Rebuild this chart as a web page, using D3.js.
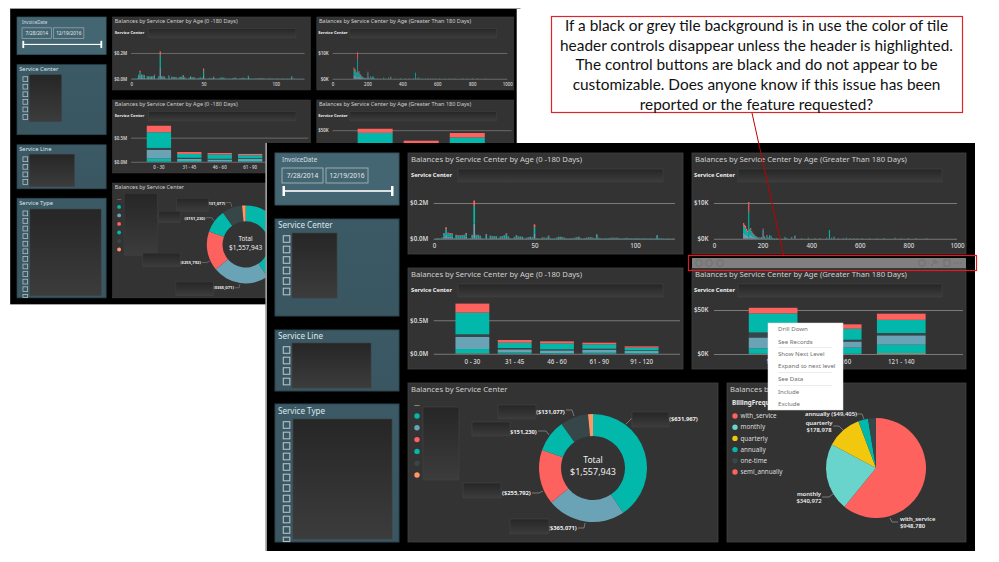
<!DOCTYPE html>
<html><head><meta charset="utf-8">
<script src="https://cdn.jsdelivr.net/npm/d3@7/dist/d3.min.js"></script>
<style>html,body{margin:0;padding:0;background:#fff}svg{display:block}text{font-family:"Noto Sans","Open Sans",sans-serif}</style>
</head><body><div id="chart"></div>
<script>
// ---------- data ----------
const calloutLines=["If a black or grey tile background is in use the color of tile","header controls disappear unless the header is highlighted.","The control buttons are black and do not appear to be","customizable. Does anyone know if this issue has been","reported or the feature requested?"];
const menuItems=["Drill Down","See Records","Show Next Level","Expand to next level","See Data","Include","Exclude"];
const titleYoung="Balances by Service Center by Age (0 -180 Days)";
const titleOld="Balances by Service Center by Age (Greater Than 180 Days)";
const invoiceDates=["7/28/2014","12/19/2016"];

// balances by individual age, 0-119 days, $K
const age1Blue=[0,1,1,1,2,12,22,12,12,11,1,8,7,7,7,8,12,1,1,8,84,8,8,6,1,1,9,1,6,5,5,5,1,5,5,6,9,5,1,1,3,7,5,5,4,1,2,3,4,3,28,1,1,1,3,2,2,6,1,1,1,2,4,4,3,2,1,1,1,1,2,3,4,1,1,1,2,3,3,2,1,8,2,1,1,1,1,1,2,2,2,2,1,1,1,1,2,1,1,1,1,1,1,1,1,1,1,1,1,1,1,7,1,1,1,0,1,1,0,1];
const age1Teal=[0,1,3,1,4,16,30,17,15,14,3,11,10,10,10,11,15,1,3,11,98,11,11,8,3,1,13,1,8,8,8,8,3,6,8,10,15,6,3,1,5,10,6,6,6,1,3,5,6,4,35,3,1,1,4,3,3,8,2,1,2,3,6,6,5,3,2,1,2,2,3,4,6,2,1,2,4,4,5,3,2,13,2,2,1,2,2,2,2,3,2,3,2,1,2,2,2,2,2,1,2,2,2,1,2,2,1,1,2,1,1,11,2,1,1,1,1,1,1,1];
const age1Red=[0,0,0,0,0,4,12,5,5,5,0,3,3,3,3,3,5,0,0,3,32,3,3,3,0,0,4,0,3,2,2,2,0,2,2,3,6,2,0,0,1,3,2,2,1,0,1,1,1,1,17,0,0,0,1,1,1,3,1,0,0,1,1,1,1,1,0,0,1,0,1,1,1,1,0,1,1,1,1,1,0,3,1,0,0,0,0,1,1,1,1,1,1,0,0,1,1,0,0,0,0,1,0,0,0,0,0,0,0,0,0,2,0,0,0,0,0,0,0,0];

// balances by individual age above 120 days, $K
const age2Days=[122,126,130,134,138,143,147,151,155,159,163,167,171,175,180,184,188,192,196,202,207,213,218,223,229,235,240,248,258,272,292,299,320,333,360,388,415,436,463,475,484,494,512,532,545,560,575,590,610,640,670,700,745,770,800,830,875];
const age2Blue=[1.6,1.4,1.2,1.0,0.8,0.5,1.0,1.2,0.8,0.6,0.5,0.4,0.3,0.2,0.2,0.1,0.1,0.1,0.2,2.2,0.2,0.1,0.2,0.1,0.3,0.3,0.1,0.1,0.1,0.1,0.2,0.1,0.3,0.8,0.1,0.1,0.1,0.1,0.1,0.4,0.1,0.2,0.1,0.1,0.1,0.1,0.1,0.1,0.1,0.1,0.1,0.1,0.1,0.1,0.1,0.1,0.1];
const age2Teal=[2.0,1.8,1.7,1.2,1.0,7.0,1.2,1.4,1.0,0.8,0.6,0.5,0.3,0.3,0.2,0.2,0.1,0.1,0.2,0.4,0.3,0.1,0.5,0.2,0.7,0.5,0.1,0.1,0.1,0.1,0.3,0.1,0.2,0.1,0.1,0.2,0.1,0.1,0.2,2.0,0.2,0.4,0.1,0.1,0.2,0.1,0.1,0.1,0.1,0.1,0.1,0.1,0.2,0.1,0.1,0.1,0.1];
const age2Red=[0.8,0.7,0.7,0.6,0.5,2.8,0.4,0.4,0.3,0.3,0.2,0.2,0.15,0.1,0.07,0.07,0.08,0.08,0.07,0.2,0.15,0.08,0.3,0.1,0,0,0,0,0,0,0,0,0,0,0,0,0,0,0,0,0,0,0,0,0,0,0,0,0,0,0,0,0,0,0,0,0];

const bucketsYoung=["0 - 30","31 - 45","46 - 60","61 - 90","91 - 120"];
const youngOrange=[0.005,0,0,0,0];
const youngTealLow=[0.065,0.02,0.01,0.015,0.01];
const youngBlue=[0.18,0.045,0.04,0.045,0.03];
const youngDark=[0.04,0.02,0.015,0.015,0.01];
const youngTealHigh=[0.325,0.08,0.09,0.065,0.04];
const youngRed=[0.135,0.04,0.03,0.025,0.02];

const bucketsOld=["160+","141 - 160","121 - 140"];
const oldOrange=[0.3,0.2,0.8];
const oldTealLow=[6,7,9.8];
const oldBlue=[12.5,7,10.6];
const oldDark=[5.7,2,2.6];
const oldTealHigh=[21.6,12.5,15];
const oldRed=[6.4,5,7];

const centerValues=[631967,365071,255792,151230,131077,22806];
const centerLabels=["($631,967)","($365,071)","($255,792)","($151,230)","($131,077)",""];
const totalLabel="$1,557,943";

const billingNames=["with_service","monthly","quarterly","annually","one-time","semi_annually"];
const billingValues=[948780,340972,178978,49405,39808,0];

// ---------- styles ----------
const TEAL="#01B8AA",BLUE="#6BA3B6",RED="#FD625E",DARK="#374649",ORANGE="#FE9666",MINT="#69D4CC",YELLOW="#F2C80F";
const centerColors=[TEAL,BLUE,RED,TEAL,DARK,ORANGE];
const billingColors=[RED,MINT,YELLOW,TEAL,DARK,RED];
const stackColors=[ORANGE,TEAL,BLUE,DARK,TEAL,RED];
const stackKeys=["orange","tealLow","blue","dark","tealHigh","red"];
const TILE="#333333",TEXT="#d9d9d9",GRID="#7a7a7a",TITLE_SIZE=7.7;

const svg=d3.select("#chart").append("svg").attr("width",999).attr("height",562);
const defs=svg.append("defs");
const mg=defs.append("linearGradient").attr("id","maskGrad").attr("x1",0).attr("y1",0).attr("x2",0).attr("y2",1);
mg.append("stop").attr("offset",0).attr("stop-color","#262626");
mg.append("stop").attr("offset",1).attr("stop-color","#3c3c3c");
const tg=defs.append("linearGradient").attr("id","slicerGrad").attr("x1",0).attr("y1",0).attr("x2",0).attr("y2",1);
tg.append("stop").attr("offset",0).attr("stop-color","#3b5a66");
tg.append("stop").attr("offset",1).attr("stop-color","#395661");

svg.append("rect").attr("width",999).attr("height",562).attr("fill","#fff");

function rect(g,x0,y0,x1,y1,fill,stroke){
  return g.append("rect").attr("x",x0).attr("y",y0).attr("width",x1-x0).attr("height",y1-y0).attr("fill",fill).attr("stroke",stroke||"none");
}
function mask(g,b){rect(g,b[0],b[1],b[2],b[3],"url(#maskGrad)","#414141").attr("stroke-width",.7);}
function label(g,x,y,s,size,fill,anchor,weight){
  return g.append("text").attr("x",x).attr("y",y).attr("dy",".35em").attr("font-size",size).attr("fill",fill||TEXT)
    .attr("text-anchor",anchor||"start").attr("font-weight",weight||400).text(s);
}
function leader(g,pts){
  g.append("path").attr("d",d3.line()(pts)).attr("fill","none").attr("stroke","#8a8a8a").attr("stroke-width",.8);
}

function chartFrame(g,x0,y0,x1,y1,title,labelX,mx0,mx1){
  rect(g,x0,y0,x1,y1,TILE,"#414141").attr("stroke-width",.8);
  label(g,x0+3,y0+6,title,TITLE_SIZE,"#cfcfcf");
  label(g,labelX,y0+22,"Service Center",5.7,"#f0f0f0","start",700);
  mask(g,[mx0,y0+16,mx1,y0+29]);
}
function yAxis(g,y,x0,x1,vals,fmt){
  const a=g.append("g").attr("transform",`translate(${x0},0)`)
    .call(d3.axisLeft(y).tickValues(vals).tickSize(-(x1-x0)).tickPadding(5.5).tickFormat(fmt));
  a.select(".domain").remove();
  a.selectAll("line").attr("stroke",GRID).attr("stroke-width",1.1);
  a.selectAll("text").attr("fill",TEXT).attr("font-size",6.2).attr("font-weight",600);
}
function xAxis(g,scale,yPos,vals,fmt){
  const ax=d3.axisBottom(scale).tickSize(0).tickPadding(0);
  if(vals)ax.tickValues(vals);
  if(fmt)ax.tickFormat(fmt);
  const a=g.append("g").attr("transform",`translate(0,${yPos})`).call(ax);
  a.select(".domain").remove();
  a.selectAll("text").attr("fill",TEXT).attr("font-size",6.2).attr("font-weight",500);
  return a;
}
function stacked(g,x,y,rows){
  const series=d3.stack().keys(stackKeys)(rows);
  series.forEach((s,i)=>{
    g.append("g").attr("fill",stackColors[i]).selectAll("rect").data(s).join("rect")
      .attr("x",d=>x(d.data.cat)).attr("width",x.bandwidth())
      .attr("y",d=>y(d[1])).attr("height",d=>Math.max(0,y(d[0])-y(d[1])));
  });
}

function dashboard(root,cfg){
  const g=root;
  rect(g,cfg.black[0],cfg.black[1],cfg.black[2],cfg.black[3],"#000");

  // ---- slicers ----
  rect(g,275,153,399,205,"#446673","#375059");
  label(g,282,160,"InvoiceDate",6.3,"#d5dde0");
  invoiceDates.forEach((d,i)=>{
    const bx=i?326:282;
    rect(g,bx,168,bx+(i?42:41),183,"none","#a3b3b9").attr("stroke-width",.9);
    label(g,bx+(i?21:20.5),175.5,d,6.6,"#e8e8e8","middle");
  });
  rect(g,283,190.2,393,191.8,"#fff");
  rect(g,282.5,186,285,196,"#fff");
  rect(g,391,186,393.5,196,"#fff");

  function slicer(y0,y1,title,titleY,mb,count,firstY){
    rect(g,275,y0,399,y1,"url(#slicerGrad)","#2e444d");
    label(g,278,titleY,title,8.1,"#dfe5e7");
    d3.range(count).forEach(i=>{
      const cy=firstY+i*10.5;
      const bot=Math.min(cy+3.3,y1-.5);
      if(cy-3.3<y1)rect(g,283.3,cy-3.3,289.8,bot,"none","#b5bfc3").attr("stroke-width",1.1);
    });
    mask(g,mb);
  }
  slicer(219,316,"Service Center",225,[292,233,337,298],6,239);
  slicer(330,391,"Service Line",336,[292,343,cfg.lineMaskRight,388],4,350);
  slicer(404,542,"Service Type",411,[293,419,392,539],12,425);

  // ---- age by day, 0-180 ----
  chartFrame(g,408,153,683,254,titleYoung,411,458,663);
  const x1=d3.scaleLinear().domain([0,100]).range([434,635]);
  const y1=d3.scaleLinear().domain([0,200]).range([238.7,203]);
  yAxis(g,y1,433.7,675,[0,200],d=>"$"+(d/1000).toFixed(1)+"M");
  xAxis(g,x1,244,[0,50,100]);
  age1Blue.forEach((b,i)=>{
    const vals=[b,age1Teal[i],age1Red[i]],cols=[BLUE,TEAL,RED];
    let acc=0;
    vals.forEach((v,k)=>{
      if(!v)return;
      rect(g,x1(i)-.85,y1(acc+v),x1(i)+.85,y1(acc),cols[k]);acc+=v;
    });
  });

  // ---- age by day, >180 ----
  chartFrame(g,692,153,966,254,titleOld,694,738,942);
  const x3=d3.scaleLinear().domain([0,1000]).range([714,957]);
  const y3=d3.scaleLinear().domain([0,10]).range([238.7,203]);
  yAxis(g,y3,714,957,[0,10],d=>"$"+d+"K");
  xAxis(g,x3,244,[0,200,400,600,800,1000],d3.format("d"));
  age2Days.forEach((day,i)=>{
    const vals=[age2Blue[i],age2Teal[i],age2Red[i]],cols=[BLUE,TEAL,RED];
    let acc=0;
    vals.forEach((v,k)=>{
      if(!v)return;
      rect(g,x3(day)-.55,y3(acc+v),x3(day)+.55,y3(acc),cols[k]);acc+=v;
    });
  });

  // ---- age buckets ----
  const toRows=(cats,arrs)=>cats.map((c,i)=>{const r={cat:c};stackKeys.forEach((k,j)=>r[k]=arrs[j][i]);return r;});
  chartFrame(g,408,268,683,369,titleYoung,411,458,663);
  const x2=d3.scaleBand().domain(bucketsYoung).range([447,667]).padding(.2);
  const y2=d3.scaleLinear().domain([0,.5]).range([353.7,320.3]);
  yAxis(g,y2,433.7,680,[0,.5],d=>"$"+d.toFixed(1)+"M");
  stacked(g,x2,y2,toRows(bucketsYoung,[youngOrange,youngTealLow,youngBlue,youngDark,youngTealHigh,youngRed]));
  xAxis(g,x2,359.5);

  chartFrame(g,692,268,966,369,titleOld,694,738,942);
  const x4=d3.scaleBand().domain(bucketsOld).range([733.4,941]).padding(.24);
  const y4=d3.scaleLinear().domain([0,50]).range([354,310]);
  yAxis(g,y4,714,963,[0,50],d=>"$"+d+"K");
  stacked(g,x4,y4,toRows(bucketsOld,[oldOrange,oldTealLow,oldBlue,oldDark,oldTealHigh,oldRed]));
  const a4=xAxis(g,x4,359.5);
  if(cfg.menuCut){ // the context menu covers these labels: only their visible part is shown
    a4.selectAll("text").filter(d=>d===bucketsOld[0]).text("16").attr("text-anchor","end");
    a4.selectAll("text").filter(d=>d===bucketsOld[1]).text("160").attr("text-anchor","end").attr("x",14);
  }

  // ---- donut ----
  rect(g,408,383,718,542,TILE,"#414141").attr("stroke-width",.8);
  label(g,411,389,"Balances by Service Center",TITLE_SIZE,"#cfcfcf");
  const donut=g.append("g").attr("transform","translate(593,468)");
  const pie=d3.pie().sort(null);
  const arc=d3.arc().innerRadius(32).outerRadius(54);
  donut.selectAll("path").data(pie(centerValues)).join("path").attr("d",arc).attr("fill",(d,i)=>centerColors[i]);
  label(g,593,460,"Total",8.6,"#f0f0f0","middle");
  label(g,593,472,totalLabel,9,"#f0f0f0","middle");
  [[[626,424],[632,418]],[[578,528],[584,528],[585,523]],[[532,493],[539,493],[543,491]],[[538,431],[546,431],[549,435]],[[566,410],[572,410],[574,416]]]
    .forEach(p=>leader(g,p));
  [[669,419],[548,528],[502,493],[508,432],[536,412]].forEach((p,i)=>label(g,p[0],p[1],centerLabels[i],5.8,"#eeeeee","start",700));
  centerColors.forEach((c,i)=>{
    g.append("circle").attr("cx",417).attr("cy",416+i*11.8).attr("r",2.7).attr("fill",c);
  });
  label(g,414,405,"—",6,"#d0d0d0");
  cfg.donutMasks.forEach(m=>mask(g,m));

  // ---- pie ----
  rect(g,727,383,966,542,TILE,"#414141").attr("stroke-width",.8);
  label(g,730,389,cfg.menuCut?"Balances b":"Balances by Service Center",TITLE_SIZE,"#cfcfcf");
  label(g,732,403,cfg.menuCut?"BillingFreque":"BillingFrequency",6.3,"#ececec","start",700);
  const pg=g.append("g").attr("transform","translate(876,468)");
  pg.selectAll("path").data(d3.pie().sort(null)(billingValues)).join("path")
    .attr("d",d3.arc().innerRadius(0).outerRadius(50)).attr("fill",(d,i)=>billingColors[i]);
  billingNames.forEach((n,i)=>{
    const ly=416+i*11.2;
    g.append("circle").attr("cx",735).attr("cy",ly).attr("r",2.7).attr("fill",billingColors[i]);
    label(g,740.5,ly,n,6.3,"#dcdcdc");
  });
  [[[856,414],[862,414],[864,419]],[[833,426],[839,426],[843,430]],[[822,497],[829,497],[833,494]],[[890,518],[892,522],[898,522]]].forEach(p=>leader(g,p));
  label(g,805,414,"annually ($49,405)",5.9,"#eeeeee","start",600);
  label(g,819,423,"quarterly",5.9,"#eeeeee","middle",600);
  label(g,819,430,"$178,978",5.9,"#eeeeee","middle",600);
  label(g,809,494,"monthly",5.9,"#eeeeee","middle",600);
  label(g,809,501,"$340,972",5.9,"#eeeeee","middle",600);
  label(g,900,519,"with_service",5.9,"#eeeeee","start",600);
  label(g,900,525.5,"$948,780",5.9,"#eeeeee","start",600);
}

// ---------- back dashboard (smaller copy) ----------
const SX=.719,SY=.722;
const back=svg.append("g").attr("transform",`translate(${17-275*SX},${17-153*SY}) scale(${SX},${SY})`);
dashboard(back,{black:[265.5,141,970,551],lineMaskRight:355,menuCut:false,
  donutMasks:[[424,397,470,483],[497,404,541,422],[472,422,502,438],[450,480,502,499],[496,520,548,539],[632,412,669,427]]});
// texts of the back copy that the front copy covers completely are not part of the picture
back.selectAll("text").filter(function(){
  const r=this.getBoundingClientRect();
  return r.left>=262&&r.top>=138;
}).remove();
svg.append("rect").attr("x",10).attr("y",8).attr("width",510.5).attr("height",1).attr("fill","#9a9a9a");

// ---------- front dashboard ----------
rect(svg,265.3,143,267,551,"#9a9a9a");
const front=svg.append("g");
dashboard(front,{black:[267,143,975,551],lineMaskRight:371,menuCut:true,
  donutMasks:[[423,407,459,480],[498,405,536,419],[472,422,510,436],[463,483,501,498],[510,519,549,534],[632,412,669,427]]});

// tile header controls
rect(svg,692,258,966,268,"#808080");
const ICON="#6c6c6c";
[699,709,720,922].forEach(cx=>svg.append("circle").attr("cx",cx).attr("cy",263).attr("r",3.3).attr("fill","none").attr("stroke",ICON).attr("stroke-width",.8));
svg.append("path").attr("d","M931 266 L934 263 M932.5 260.5 L936.5 264 M934 259.5 L938 263").attr("stroke",ICON).attr("fill","none");
rect(svg,944,260,950,266,"none",ICON).attr("stroke-width",.8);
[955,958,961].forEach(cx=>svg.append("circle").attr("cx",cx).attr("cy",263).attr("r",.7).attr("fill",ICON));

// context menu
rect(svg,768,323,843,410,"#ffffff","#e2e2e2").attr("stroke-width",.5);
const menuY=[329,342,354,366,379,392,404];
menuItems.forEach((t,i)=>label(svg,778,menuY[i],t,6.1,"#6e6e6e"));
[347,372,385].forEach(y=>rect(svg,778,y,832,y+.8,"#e6e6e6"));

// red highlight + callout
svg.append("line").attr("x1",752).attr("y1",113).attr("x2",783.5).attr("y2",255).attr("stroke","#c00000").attr("stroke-width",1);
rect(svg,688.5,255.5,976.5,270.5,"none","#e01b22").attr("stroke-width",1.2);
rect(svg,551.5,16.5,962.5,112.5,"#fff","#d9262b").attr("stroke-width",1.2);
calloutLines.forEach((t,i)=>svg.append("text").attr("x",756.5).attr("y",25.5+i*19.7).attr("dy",".35em")
  .attr("text-anchor","middle").attr("font-size",15.4).attr("fill","#111").style("font-family","Lato,Carlito,sans-serif").text(t));
</script></body></html>
